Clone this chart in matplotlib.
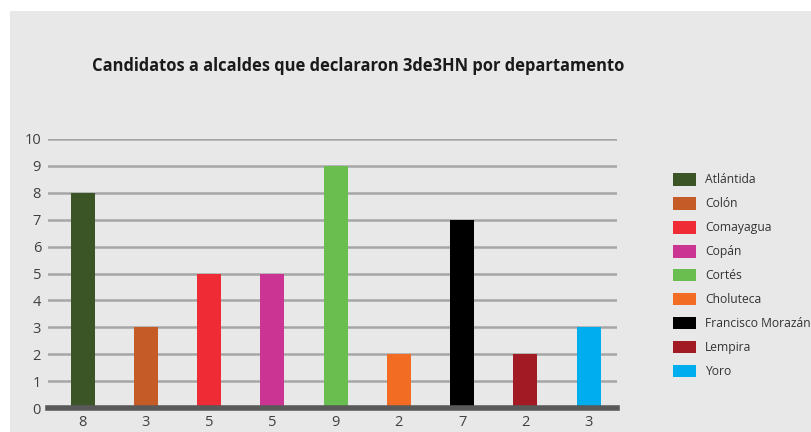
import matplotlib.pyplot as plt
from matplotlib.patches import Rectangle, Patch

departamentos = ["Atlántida", "Colón", "Comayagua", "Copán", "Cortés",
                 "Choluteca", "Francisco Morazán", "Lempira", "Yoro"]
valores = [8, 3, 5, 5, 9, 2, 7, 2, 3]
colores = ["#3b5526", "#c55c27", "#ef2b35", "#cc3494", "#6abd4f",
           "#f36c24", "#000000", "#a11a24", "#00adee"]

plt.rcParams['font.family'] = ['Open Sans', 'DejaVu Sans']

fig = plt.figure(figsize=(8.11, 4.32), dpi=100, facecolor="white")
# fondo gris del grafico
fig.patches.append(Rectangle((10 / 811, 0), 1, 1 - 11 / 432, transform=fig.transFigure,
                             facecolor="#e8e8e8", edgecolor="none", zorder=-5))

ax = fig.add_axes([48 / 811, 1 - 408 / 432, (617 - 48) / 811, (408 - 139) / 432])
ax.set_facecolor("none")
ax.set_zorder(2)

x = range(len(valores))
ax.bar(x, valores, width=0.38, color=colores, zorder=3)

ax.set_xlim(-0.55, 8.45)
ax.set_ylim(0, 10)
ax.set_yticks(range(0, 11))
ax.set_xticks(list(x))
ax.set_xticklabels([str(v) for v in valores])
ax.yaxis.grid(True, color="#a6a6a6", linewidth=1.8, zorder=1)
ax.set_axisbelow(True)
ax.tick_params(axis="both", length=0, labelsize=10.5, colors="#404040")
ax.tick_params(axis="x", pad=5)
ax.tick_params(axis="y", pad=5)
for s in ["top", "right", "left"]:
    ax.spines[s].set_visible(False)
ax.spines["bottom"].set_color("#595959")
ax.spines["bottom"].set_linewidth(4)
ax.spines["bottom"].set_zorder(4)

fig.text(92 / 811, 1 - 66 / 432, "Candidatos a alcaldes que declararon 3de3HN por departamento",
         fontsize=11.9, fontweight="bold", color="#1a1a1a", va="center", ha="left")

handles = [Patch(facecolor=c, edgecolor="none") for c in colores]
fig.legend(handles, departamentos, loc="upper left", bbox_to_anchor=(668 / 811, 1 - 168 / 432),
           frameon=False, fontsize=8.7, labelcolor="#333333", handlelength=1.9, handleheight=1.25,
           labelspacing=0.87, handletextpad=0.75, borderaxespad=0)

fig.savefig("out.png", dpi=100, facecolor=fig.get_facecolor())
